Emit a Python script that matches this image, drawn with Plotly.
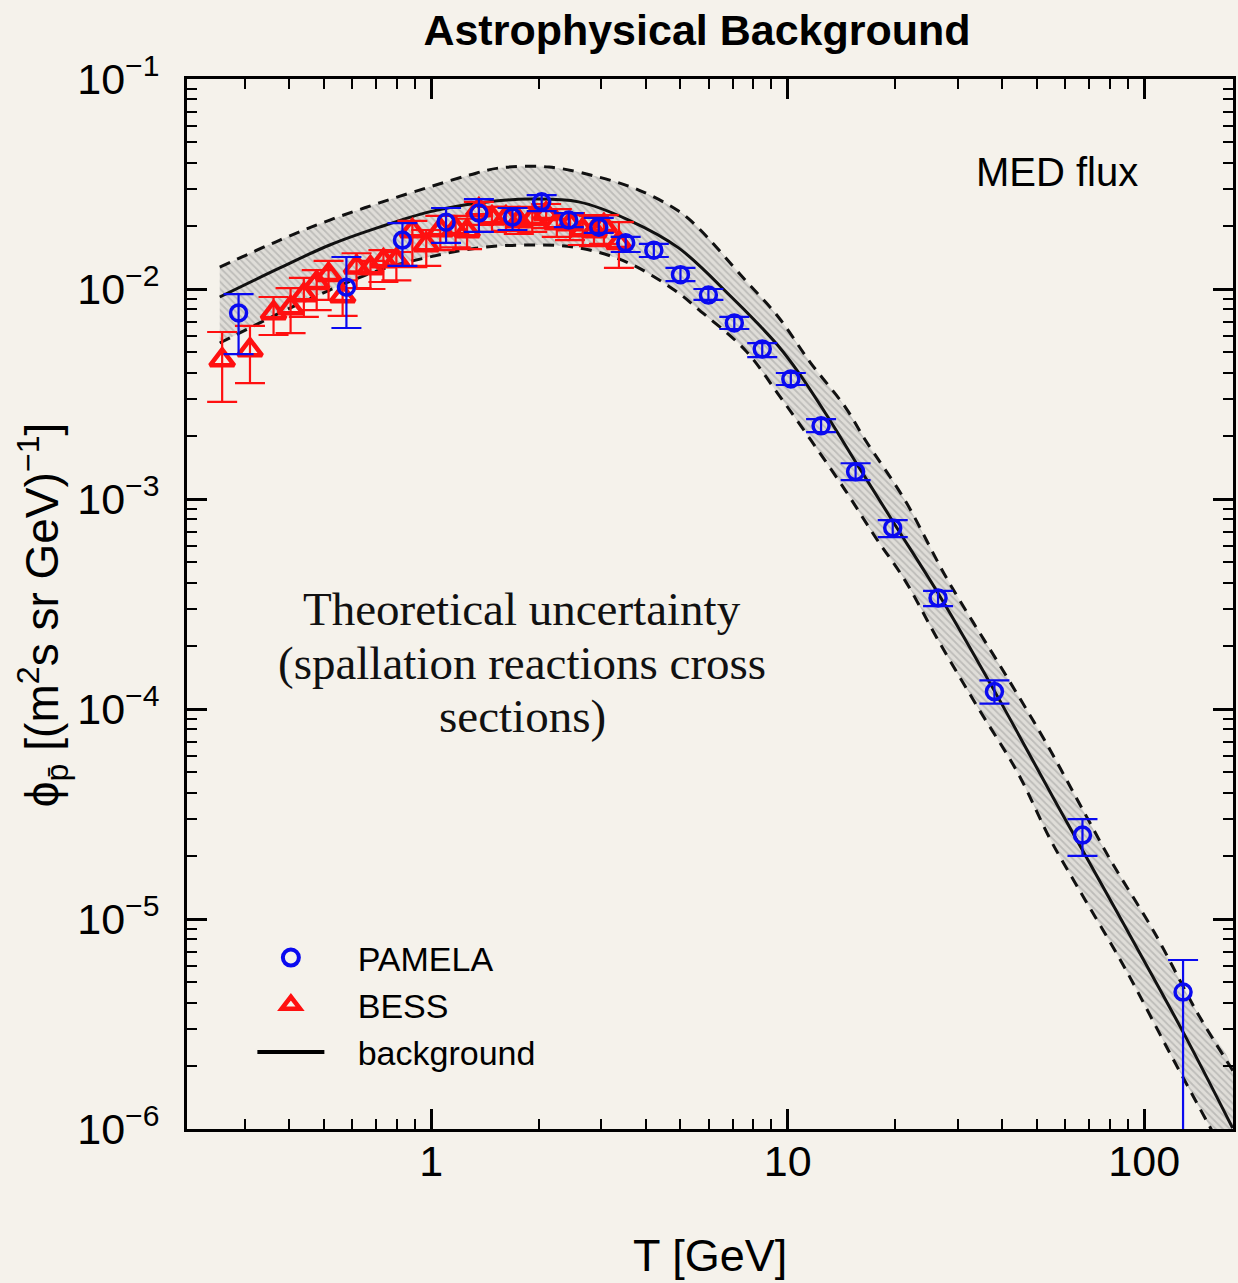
import plotly.graph_objects as go

# ---------------- data ----------------
# PAMELA antiproton flux: kinetic energy [GeV], flux and error-bar ends
pamela_T = [0.288, 0.578, 0.830, 1.10, 1.36, 1.69, 2.04, 2.43, 2.95, 3.51, 4.21, 5.00,
            5.99, 7.08, 8.48, 10.2, 12.4, 15.5, 19.7, 26.4, 38.0, 67.1, 128.5]
pamela_flux = [7.69e-3, 1.02e-2, 1.71e-2, 2.08e-2, 2.30e-2, 2.20e-2, 2.60e-2, 2.13e-2,
               1.97e-2, 1.66e-2, 1.53e-2, 1.17e-2, 9.36e-3, 6.89e-3, 5.18e-3, 3.73e-3,
               2.23e-3, 1.35e-3, 7.28e-4, 3.38e-4, 1.21e-4, 2.51e-5, 4.49e-6]
pamela_hi = [9.46e-3, 1.42e-2, 2.06e-2, 2.43e-2, 2.68e-2, 2.43e-2, 2.80e-2, 2.30e-2,
             2.18e-2, 1.77e-2, 1.64e-2, 1.26e-2, 1.00e-2, 7.36e-3, 5.53e-3, 3.98e-3,
             2.40e-3, 1.48e-3, 7.94e-4, 3.65e-4, 1.37e-4, 2.99e-5, 6.38e-6]
pamela_lo = [4.90e-3, 6.52e-3, 1.29e-2, 1.66e-2, 1.87e-2, 1.91e-2, 2.35e-2, 1.97e-2,
             1.85e-2, 1.50e-2, 1.42e-2, 1.09e-2, 8.87e-3, 6.45e-3, 4.74e-3, 3.49e-3,
             2.08e-3, 1.23e-3, 6.59e-4, 3.09e-4, 1.06e-4, 2.00e-5, 1.0e-7]

# BESS antiproton flux
bess_T = [0.259, 0.310, 0.361, 0.403, 0.439, 0.477, 0.515, 0.564, 0.617, 0.675, 0.734,
          0.798, 0.885, 0.968, 1.06, 1.17, 1.26, 1.36, 1.48, 1.62, 1.76, 1.92, 2.10,
          2.25, 2.45, 2.66, 2.86, 3.05, 3.36]
bess_flux = [4.59e-3, 5.12e-3, 7.69e-3, 8.12e-3, 9.36e-3, 1.07e-2, 1.17e-2, 9.26e-3,
             1.27e-2, 1.26e-2, 1.36e-2, 1.37e-2, 1.89e-2, 1.62e-2, 1.91e-2, 1.93e-2,
             1.89e-2, 2.38e-2, 2.18e-2, 2.18e-2, 2.11e-2, 2.16e-2, 2.28e-2, 2.06e-2,
             2.04e-2, 1.91e-2, 1.89e-2, 2.00e-2, 1.66e-2]
bess_hi = [6.24e-3, 6.67e-3, 9.16e-3, 1.01e-2, 1.13e-2, 1.23e-2, 1.36e-2, 1.10e-2,
           1.48e-2, 1.36e-2, 1.53e-2, 1.50e-2, 2.11e-2, 1.91e-2, 2.23e-2, 2.23e-2,
           2.16e-2, 2.60e-2, 2.46e-2, 2.46e-2, 2.43e-2, 2.46e-2, 2.54e-2, 2.40e-2,
           2.30e-2, 2.25e-2, 2.23e-2, 2.25e-2, 2.08e-2]
bess_lo = [2.90e-3, 3.56e-3, 6.04e-3, 6.17e-3, 7.36e-3, 7.94e-3, 8.87e-3, 7.44e-3,
           1.01e-2, 1.00e-2, 1.08e-2, 1.10e-2, 1.27e-2, 1.29e-2, 1.53e-2, 1.58e-2,
           1.55e-2, 2.02e-2, 1.87e-2, 1.89e-2, 1.83e-2, 1.87e-2, 1.95e-2, 1.77e-2,
           1.71e-2, 1.62e-2, 1.60e-2, 1.64e-2, 1.26e-2]

# Secondary (astrophysical) background, MED propagation
bkg_T = [0.255, 0.376, 0.519, 0.715, 0.987, 1.36, 1.88, 2.59, 3.58, 4.94, 6.95, 8.11,
         9.41, 10.7, 12.8, 15.7, 20.0, 26.9, 38.1, 56.0, 84.1, 129, 177]
bkg_flux = [9.16e-3, 1.26e-2, 1.62e-2, 1.97e-2, 2.33e-2, 2.57e-2, 2.68e-2, 2.60e-2,
            2.13e-2, 1.57e-2, 9.16e-3, 7.04e-3, 5.35e-3, 4.02e-3, 2.54e-3, 1.45e-3,
            7.52e-4, 3.38e-4, 1.21e-4, 3.69e-5, 1.07e-5, 2.86e-6, 1.01e-6]

# Upper / lower edges of the cross-section uncertainty band
upper_T = [0.255, 0.376, 0.519, 0.715, 0.987, 1.28, 1.55, 2.14, 2.95, 3.82, 4.94, 5.62,
           7.61, 9.41, 11.6, 14.5, 16.5, 21.3, 28.1, 40.6, 52.5, 68.0, 80.4, 107, 141, 179]
upper_flux = [1.27e-2, 1.71e-2, 2.13e-2, 2.57e-2, 3.06e-2, 3.49e-2, 3.77e-2, 3.81e-2,
              3.41e-2, 2.96e-2, 2.35e-2, 1.95e-2, 1.10e-2, 7.36e-3, 4.44e-3, 2.74e-3,
              1.91e-3, 9.89e-4, 4.11e-4, 1.48e-4, 7.12e-5, 3.20e-5, 1.91e-5, 8.58e-6,
              3.57e-6, 1.85e-6]
lower_T = [0.255, 0.376, 0.519, 0.715, 0.987, 1.36, 1.88, 2.59, 3.58, 4.94, 5.51, 7.61,
           9.41, 11.6, 14.5, 17.6, 21.3, 26.4, 34.1, 44.2, 54.6, 65.0, 87.9, 118, 153, 178]
lower_flux = [5.53e-3, 7.69e-3, 9.89e-3, 1.23e-2, 1.42e-2, 1.57e-2, 1.62e-2, 1.57e-2,
              1.33e-2, 9.57e-3, 8.21e-3, 5.10e-3, 3.15e-3, 1.91e-3, 1.10e-3, 6.59e-4,
              4.11e-4, 2.13e-4, 1.02e-4, 4.96e-5, 2.38e-5, 1.42e-5, 5.91e-6, 2.30e-6,
              1.02e-6, 6.4e-7]

# Axis ticks
x_tick_vals = [1, 10, 100]
x_tick_text = ["1", "10", "100"]
y_tick_vals = [1e-6, 1e-5, 1e-4, 1e-3, 1e-2, 1e-1]
y_tick_text = ["10<sup>\u22126</sup>", "10<sup>\u22125</sup>", "10<sup>\u22124</sup>",
               "10<sup>\u22123</sup>", "10<sup>\u22122</sup>", "10<sup>\u22121</sup>"]

# ---------------- styling ----------------
BG = "#f5f2eb"
SANS = "Liberation Sans, Arial, Helvetica, sans-serif"
SERIF = "Liberation Serif, Times New Roman, serif"
BLUE = "#0a0af0"
RED = "#ff1010"
SMOOTH = 1.0
PAD = "\u00a0\u00a0\u00a0"  # gap between legend symbol and label

x_minor = [d * 10.0 ** k for k in range(-1, 3) for d in range(2, 10)]
y_minor = [d * 10.0 ** k for k in range(-6, -1) for d in range(2, 10)]

fig = go.Figure()

# hatched uncertainty band (upper edge forward, lower edge back)
fig.add_trace(go.Scatter(
    x=upper_T + lower_T[::-1],
    y=upper_flux + lower_flux[::-1],
    mode="lines", fill="toself", line=dict(width=0, shape="spline", smoothing=SMOOTH),
    fillcolor="#dcdbd6",
    fillpattern=dict(shape="\\", fgcolor="#9c9c9a", bgcolor="#dfddd8", size=5, solidity=0.35),
    hoverinfo="skip", showlegend=False))

for tx, ty in ((upper_T, upper_flux), (lower_T, lower_flux)):
    fig.add_trace(go.Scatter(
        x=tx, y=ty, mode="lines",
        line=dict(color="#111111", width=3, dash="11px,8px", shape="spline", smoothing=SMOOTH),
        hoverinfo="skip", showlegend=False))

fig.add_trace(go.Scatter(
    x=bkg_T, y=bkg_flux, mode="lines",
    line=dict(color="#111111", width=3, shape="spline", smoothing=SMOOTH),
    showlegend=False))

fig.add_trace(go.Scatter(
    x=bess_T, y=bess_flux, mode="markers",
    marker=dict(symbol="triangle-up-open", size=21, color=RED, line=dict(width=4.5, color=RED)),
    error_y=dict(type="data", symmetric=False,
                 array=[h - f for h, f in zip(bess_hi, bess_flux)],
                 arrayminus=[f - l for f, l in zip(bess_flux, bess_lo)],
                 color=RED, thickness=2.2, width=15),
    showlegend=False))

fig.add_trace(go.Scatter(
    x=pamela_T, y=pamela_flux, mode="markers",
    marker=dict(symbol="circle-open", size=16, color=BLUE, line=dict(width=3.5, color=BLUE)),
    error_y=dict(type="data", symmetric=False,
                 array=[h - f for h, f in zip(pamela_hi, pamela_flux)],
                 arrayminus=[f - l for f, l in zip(pamela_flux, pamela_lo)],
                 color=BLUE, thickness=2.2, width=15),
    showlegend=False))

# legend entries
fig.add_trace(go.Scatter(x=[None], y=[None], mode="markers", name=PAD + "PAMELA",
                         marker=dict(symbol="circle-open", size=16, color=BLUE,
                                     line=dict(width=4, color=BLUE))))
fig.add_trace(go.Scatter(x=[None], y=[None], mode="markers", name=PAD + "BESS",
                         marker=dict(symbol="triangle-up-open", size=18, color=RED,
                                     line=dict(width=4.5, color=RED))))
fig.add_trace(go.Scatter(x=[None], y=[None], mode="lines", name=PAD + "background",
                         line=dict(color="black", width=4)))

axis_common = dict(
    showline=True, linecolor="black", linewidth=3, mirror="allticks",
    ticks="inside", ticklen=20, tickwidth=2.5, tickcolor="black",
    showgrid=False, zeroline=False,
    tickfont=dict(family=SANS, size=43, color="black"),
)

fig.update_xaxes(type="log", range=[-0.6853, 2.249],
                 tickmode="array", tickvals=x_tick_vals, ticktext=x_tick_text,
                 ticklabelstandoff=-8,
                 minor=dict(tickmode="array", tickvals=x_minor, ticks="inside",
                            ticklen=10, tickwidth=2, tickcolor="black", showgrid=False),
                 **axis_common)
fig.update_yaxes(type="log", range=[-6, -1],
                 tickmode="array", tickvals=y_tick_vals, ticktext=y_tick_text,
                 ticklabelstandoff=16,
                 minor=dict(tickmode="array", tickvals=y_minor, ticks="inside",
                            ticklen=10, tickwidth=2, tickcolor="black", showgrid=False),
                 **axis_common)

ann = [
    dict(text="MED flux", x=0.832, y=0.911, font=dict(family=SANS, size=40, color="black")),
    dict(text="Theoretical uncertainty", x=0.3203, y=0.4952,
         font=dict(family=SERIF, size=47, color="#111111")),
    dict(text="(spallation reactions cross", x=0.3203, y=0.4438,
         font=dict(family=SERIF, size=47, color="#111111")),
    dict(text="sections)", x=0.3203, y=0.3933,
         font=dict(family=SERIF, size=47, color="#111111")),
    dict(text="T [GeV]", x=0.5, y=-0.12, font=dict(family=SANS, size=45, color="black")),
    dict(text="\u03d5<sub>p\u0304</sub> [(m<sup>2</sup>s sr GeV)<sup>\u22121</sup>]",
         x=-0.138, y=0.49, textangle=-90, font=dict(family=SANS, size=46, color="black")),
]
for a in ann:
    a.update(xref="paper", yref="paper", showarrow=False, xanchor="center", yanchor="middle")

fig.update_layout(
    width=1238, height=1283,
    margin=dict(l=187, r=2, t=79, b=154),
    paper_bgcolor=BG, plot_bgcolor=BG,
    title=dict(text="<b>Astrophysical Background</b>", x=0.563, y=0.9766,
               xanchor="center", yanchor="middle",
               font=dict(family=SANS, size=43, color="black")),
    legend=dict(x=0.0625, y=0.1905, xanchor="left", yanchor="top",
                bgcolor="rgba(0,0,0,0)", borderwidth=0,
                font=dict(family=SANS, size=34, color="black"),
                itemwidth=67, tracegroupgap=0),
    annotations=ann,
    showlegend=True,
)

fig.write_html("out.html")
